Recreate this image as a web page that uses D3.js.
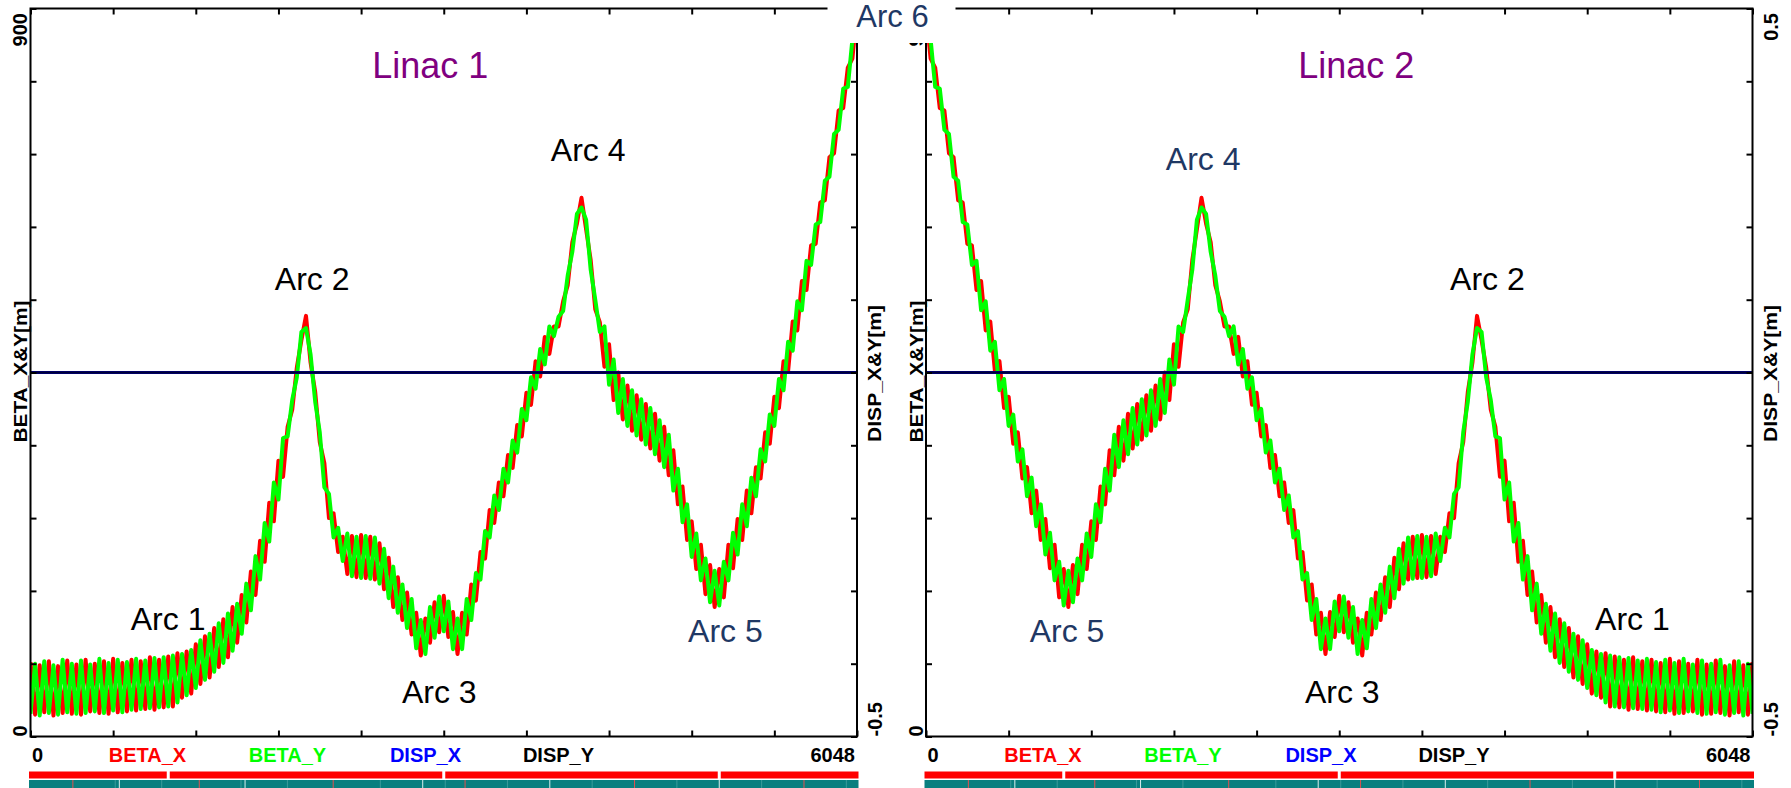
<!DOCTYPE html>
<html>
<head>
<meta charset="utf-8">
<script src="https://cdn.jsdelivr.net/npm/d3@7"></script>
<style>
html,body{margin:0;padding:0;background:#fff;}
svg{display:block;}
</style>
</head>
<body>
<svg id="chart" width="1791" height="788"></svg>
<script>
// ---------------- DATA ----------------
const categories = ["BETA_X", "BETA_Y", "DISP_X", "DISP_Y"];
const sLength = 6048;            // total path length [m]
const nodeSpacing = 33.6;        // distance between successive quadrupoles [m]
const betaDomain = [0, 900];
const dispDomain = [-0.5, 0.5];
const betaTickLabels = ["0", "900"];
const dispTickLabels = ["-0.5", "0.5"];
const sTickLabels = ["0", "6048"];
const axisTitles = ["BETA_X&Y[m]", "DISP_X&Y[m]"];

// Linac 1 beta functions read at each quadrupole (m)
const linac1BetaX = [
  92,27,88,30,93,26,87,29,94,28,89,27,95,31,90,29,93,28,96,30,91,31,95,32,93,34,98,33,95,36,99,37,103,
  48,105,53,114,65,124,73,134,86,145,98,160,
  116,175,141,204,175,242,216,289,266,341,321,
  383,404,456,490,520,462,426,364,
  338,270,276,228,247,
  201,248,197,249,196,247,194,239,182,221,160,
  197,144,178,126,153,100,146,116,166,129,174,123,154,102,153,126,188,
  168,228,220,280,264,314,297,348,332,385,371,425,410,464,445,494,473,
  507,507,538,558,611,634,666,627,589,528,512,
  457,485,416,450,392,434,378,422,367,411,356,399,341,383,323,354,
  287,309,243,266,207,237,176,212,160,207,172,237,208,269,243,304,276,
  333,319,376,362,420,406,464,452,513,502,563,552,
  607,609,660,663,716,721,774,777,827,838,897
];
const linac1BetaY = [
  28,90,26,93,29,88,27,95,30,90,28,94,29,89,31,96,29,91,32,95,30,92,33,96,34,94,35,97,36,98,37,100,42,
  102,51,107,60,119,70,127,80,140,91,152,106,
  164,127,189,156,223,194,264,241,314,293,369,
  371,416,444,500,505,472,414,376,
  308,300,246,258,217,
  251,198,247,196,248,195,246,189,232,171,210,
  153,188,134,170,109,144,102,160,122,173,130,167,108,146,108,170,144,
  202,194,254,246,298,280,331,314,366,351,405,391,444,430,479,460,507,
  495,519,526,570,599,646,654,639,577,540,500,
  507,435,466,400,442,384,428,372,417,361,406,349,391,333,373,304,
  331,265,287,222,251,193,220,166,205,162,216,193,252,225,287,260,320,
  297,355,340,398,384,442,428,488,477,538,527,588,
  583,633,636,687,692,745,750,801,803,862,873
];
// Linac 2 is traversed in the mirrored order (Arc 6 ... Arc 1)
const linac2BetaX = linac1BetaX.slice().reverse();
const linac2BetaY = linac1BetaY.slice().reverse();

// Dispersion is zero through both linacs
const dispS = [0, 6048];
const linac1DispX = [0, 0];
const linac1DispY = [0, 0];
const linac2DispX = [0, 0];
const linac2DispY = [0, 0];

// Annotations: text, s [m], beta [m]
const linac1Names = ["Linac 1", "Arc 1", "Arc 2", "Arc 3", "Arc 4", "Arc 5"];
const linac1NameS = [2925, 1007, 2061, 2991, 4081, 5085];
const linac1NameBeta = [814, 132, 552, 42, 711, 117];
const linac2Names = ["Linac 2", "Arc 4", "Arc 2", "Arc 5", "Arc 3", "Arc 1"];
const linac2NameS = [3148, 2028, 4108, 1032, 3046, 5169];
const linac2NameBeta = [814, 700, 552, 117, 42, 132];
const linac1NameKind = ["linac", "black", "black", "black", "black", "navy"];
const linac2NameKind = ["linac", "navy", "black", "navy", "black", "black"];
const betweenLabel = "Arc 6";

// Lattice bar (s positions, m)
const sectionBreaks = [1008, 3024, 5040];
const moduleEdges = [310, 620, 650, 960, 1235, 1540, 1570, 1880, 2215, 2560, 2870, 3035,
                     3180, 3490, 3800, 4110, 4420, 4730, 5040, 5350, 5660, 5970];

// ---------------- DRAW ----------------
const FONT = "'Liberation Sans', Arial, Helvetica, sans-serif";
const svg = d3.select("#chart");
const plotTop = 8.5, plotBottom = 736.5;
const colors = {BETA_X: "#ff0000", BETA_Y: "#00ff00", DISP_X: "#0000ff", DISP_Y: "#000000"};
const labelColors = {linac: "#800080", black: "#000000", navy: "#1f3864"};

const panels = [
  {x0: 30.5, x1: 857, bx: linac1BetaX, by: linac1BetaY, dx: linac1DispX, dy: linac1DispY,
   names: linac1Names, ns: linac1NameS, nb: linac1NameBeta, nk: linac1NameKind},
  {x0: 926, x1: 1752.5, bx: linac2BetaX, by: linac2BetaY, dx: linac2DispX, dy: linac2DispY,
   names: linac2Names, ns: linac2NameS, nb: linac2NameBeta, nk: linac2NameKind}
];

panels.forEach((p, pi) => {
  const x = d3.scaleLinear().domain([0, sLength]).range([p.x0, p.x1]);
  const yB = d3.scaleLinear().domain(betaDomain).range([plotBottom, plotTop]);
  const yD = d3.scaleLinear().domain(dispDomain).range([plotBottom, plotTop]);
  const g = svg.append("g");

  const clipId = "clip" + pi;
  g.append("clipPath").attr("id", clipId).append("rect")
    .attr("x", p.x0).attr("y", plotTop).attr("width", p.x1 - p.x0).attr("height", plotBottom - plotTop);

  const sNodes = p.bx.map((_, i) => i * nodeSpacing);
  const betaLine = d3.line().x((d, i) => x(sNodes[i])).y(d => yB(d));
  const dispLine = d3.line().x((d, i) => x(dispS[i])).y(d => yD(d));

  const curves = g.append("g").attr("clip-path", `url(#${clipId})`);
  curves.append("path").datum(p.bx).attr("d", betaLine)
    .attr("fill", "none").attr("stroke", colors.BETA_X).attr("stroke-width", 4).attr("stroke-linejoin", "round");
  curves.append("path").datum(p.by).attr("d", betaLine)
    .attr("fill", "none").attr("stroke", colors.BETA_Y).attr("stroke-width", 4).attr("stroke-linejoin", "round");
  curves.append("path").datum(p.dx).attr("d", dispLine)
    .attr("fill", "none").attr("stroke", colors.DISP_X).attr("stroke-width", 3);
  curves.append("path").datum(p.dy).attr("d", dispLine)
    .attr("fill", "none").attr("stroke", colors.DISP_Y).attr("stroke-width", 2.4).attr("stroke-opacity", 0.8);

  // axes (ticks inward)
  const sTicks = d3.range(0, 11).map(i => i * sLength / 10);
  const bTicks = d3.range(0, 11).map(i => betaDomain[0] + i * (betaDomain[1] - betaDomain[0]) / 10);
  const dTicks = d3.range(0, 11).map(i => dispDomain[0] + i * (dispDomain[1] - dispDomain[0]) / 10);
  const styleAxis = sel => {
    sel.select(".domain").remove();
    sel.selectAll(".tick line").attr("stroke", "#000").attr("stroke-width", 2);
    sel.selectAll(".tick text").remove();
  };
  g.append("g").attr("transform", `translate(0,${plotTop})`)
    .call(d3.axisTop(x).tickValues(sTicks).tickSize(-6).tickSizeOuter(0)).call(styleAxis);
  g.append("g").attr("transform", `translate(0,${plotBottom})`)
    .call(d3.axisBottom(x).tickValues(sTicks).tickSize(-6).tickSizeOuter(0)).call(styleAxis);
  g.append("g").attr("transform", `translate(${p.x0},0)`)
    .call(d3.axisLeft(yB).tickValues(bTicks).tickSize(-6).tickSizeOuter(0)).call(styleAxis);
  g.append("g").attr("transform", `translate(${p.x1},0)`)
    .call(d3.axisRight(yD).tickValues(dTicks).tickSize(-6).tickSizeOuter(0)).call(styleAxis);

  g.append("rect").attr("x", p.x0).attr("y", plotTop)
    .attr("width", p.x1 - p.x0).attr("height", plotBottom - plotTop)
    .attr("fill", "none").attr("stroke", "#000").attr("stroke-width", 2);

  // rotated endpoint labels
  const rot = (tx, ty, txt, anchor, size, weight, len) => {
    const t = g.append("text")
      .attr("transform", `translate(${tx},${ty}) rotate(-90)`)
      .attr("text-anchor", anchor)
      .attr("font-family", FONT).attr("font-size", size).attr("font-weight", weight)
      .attr("fill", "#000").text(txt);
    if (len) t.attr("textLength", len).attr("lengthAdjust", "spacingAndGlyphs");
    return t;
  };
  rot(p.x0 - 3.5, yB(betaDomain[0]), betaTickLabels[0], "start", 20, "bold");
  rot(p.x0 - 3.5, yB(betaDomain[1]) + 4.5, betaTickLabels[1], "end", 20, "bold");
  rot(p.x1 + 25, yD(dispDomain[0]), dispTickLabels[0], "start", 20, "bold");
  rot(p.x1 + 25, yD(dispDomain[1]) + 4.5, dispTickLabels[1], "end", 20, "bold");
  rot(p.x0 - 3.5, (plotTop + plotBottom) / 2 - 1, axisTitles[0], "middle", 19, "bold", 142);
  rot(p.x1 + 24, (plotTop + plotBottom) / 2 + 1, axisTitles[1], "middle", 19, "bold", 137);

  // bottom row: s range and legend
  const legendY = 762;
  g.append("text").attr("x", x(0) + 1.5).attr("y", legendY).attr("text-anchor", "start")
    .attr("font-family", FONT).attr("font-size", 20).attr("font-weight", "bold").text(sTickLabels[0]);
  g.append("text").attr("x", x(sLength) - 2).attr("y", legendY).attr("text-anchor", "end")
    .attr("font-family", FONT).attr("font-size", 20).attr("font-weight", "bold").text(sTickLabels[1]);
  const legendOffsets = [117, 257, 395, 528];
  categories.forEach((c, i) => {
    g.append("text").attr("x", p.x0 + legendOffsets[i]).attr("y", legendY).attr("text-anchor", "middle")
      .attr("font-family", FONT).attr("font-size", 20).attr("font-weight", "bold")
      .attr("fill", colors[c]).text(c);
  });

  // lattice bar
  g.append("rect").attr("x", p.x0 - 1.5).attr("y", 771.5).attr("width", p.x1 - p.x0 + 3).attr("height", 7)
    .attr("fill", "#ff0000");
  g.selectAll(".gap").data(sectionBreaks).join("rect")
    .attr("x", d => x(d) - 1.5).attr("y", 771).attr("width", 3).attr("height", 8).attr("fill", "#fff");
  g.append("rect").attr("x", p.x0 - 1.5).attr("y", 780).attr("width", p.x1 - p.x0 + 3).attr("height", 8)
    .attr("fill", "#087f7f");
  g.selectAll(".mod").data(moduleEdges).join("rect")
    .attr("x", d => x(d) - 0.5).attr("y", 780).attr("width", 1).attr("height", 8)
    .attr("fill", (d, i) => i % 4 === 2 ? "#d8eeee" : (i % 4 === 0 ? "#e05050" : "#3a9a9a"));

  // annotations
  p.names.forEach((n, i) => {
    const isLinac = p.nk[i] === "linac";
    g.append("text").attr("x", x(p.ns[i])).attr("y", yB(p.nb[i])).attr("text-anchor", "middle")
      .attr("font-family", FONT).attr("font-size", isLinac ? 36 : 32)
      .attr("fill", labelColors[p.nk[i]]).text(n);
  });
});

// Arc 6 label sitting between the two panels, over a white box
const midX = (panels[0].x1 + panels[1].x0) / 2;
svg.append("rect").attr("x", midX - 64).attr("y", 0).attr("width", 128).attr("height", 43).attr("fill", "#fff");
svg.append("text").attr("x", midX + 1).attr("y", 27).attr("text-anchor", "middle")
  .attr("font-family", FONT).attr("font-size", 31).attr("fill", labelColors.navy).text(betweenLabel);
</script>
</body>
</html>
